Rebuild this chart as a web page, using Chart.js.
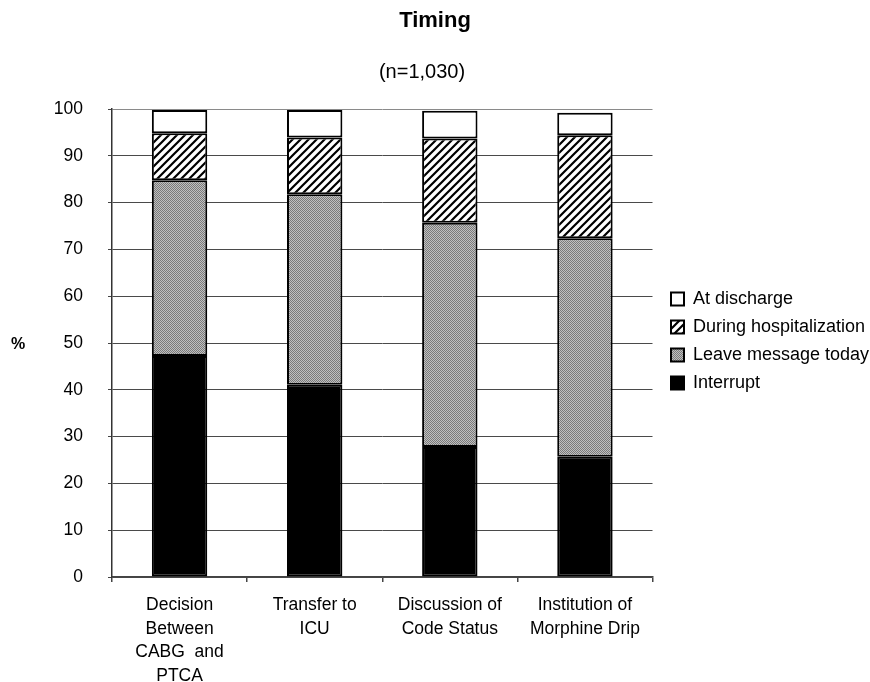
<!DOCTYPE html>
<html>
<head>
<meta charset="utf-8">
<title>Timing</title>
<script src="https://cdn.jsdelivr.net/npm/chart.js@4.4.1/dist/chart.umd.min.js"></script>
<style>
  body { margin: 0; background: #fff; }
  canvas { display: block; }
</style>
</head>
<body>
<canvas id="chart" width="870" height="682"></canvas>
<script>
const categories = [
  ['Decision', 'Between', 'CABG  and', 'PTCA'],
  ['Transfer to', 'ICU'],
  ['Discussion of', 'Code Status'],
  ['Institution of', 'Morphine Drip']
];
const interrupt = [47.2, 41.1, 27.8, 25.7];
const leaveMessage = [37.6, 40.7, 47.9, 46.7];
const duringStay = [10.0, 12.1, 18.0, 22.0];
const atDischarge = [5.0, 5.9, 5.9, 4.8];

const FONT = "'Liberation Sans', Arial, sans-serif";

// hatch fill for "During hospitalization"
function makeHatch() {
  const c = document.createElement('canvas');
  c.width = 8; c.height = 8;
  const g = c.getContext('2d');
  g.fillStyle = '#fff';
  g.fillRect(0, 0, 8, 8);
  g.strokeStyle = '#000';
  g.lineWidth = 2.2;
  g.beginPath();
  g.moveTo(-1, 9); g.lineTo(9, -1);
  g.moveTo(-3, 3); g.lineTo(3, -3);
  g.moveTo(5, 11); g.lineTo(11, 5);
  g.stroke();
  return g.createPattern(c, 'repeat');
}

// stipple grey for "Leave message today"
function makeStipple() {
  const c = document.createElement('canvas');
  c.width = 2; c.height = 2;
  const g = c.getContext('2d');
  g.fillStyle = '#c0c0c0';
  g.fillRect(0, 0, 2, 2);
  g.fillStyle = '#7a7a7a';
  g.fillRect(0, 0, 1, 1);
  g.fillRect(1, 1, 1, 1);
  return g.createPattern(c, 'repeat');
}

const textPlugin = {
  id: 'textPlugin',
  beforeDraw(chart) {
    // keep the legend beside the plot, centred on it
    const lg = chart.legend;
    lg.left = 661;
    lg.top = chart.chartArea.top;
    lg.bottom = chart.chartArea.bottom - 4;
  },
  afterDraw(chart) {
    const ctx = chart.ctx;
    ctx.save();
    ctx.fillStyle = '#000';
    ctx.textAlign = 'center';
    ctx.textBaseline = 'middle';
    ctx.font = 'bold 22px ' + FONT;
    ctx.fillText('Timing', 435, 21);
    ctx.font = '20px ' + FONT;
    ctx.fillText('(n=1,030)', 422, 72);
    ctx.font = 'bold 16px ' + FONT;
    ctx.fillText('%', 18, 345);
    ctx.restore();
  }
};

const common = { borderColor: '#000', borderWidth: 2, borderSkipped: false, barPercentage: 0.41, categoryPercentage: 1 };

new Chart(document.getElementById('chart'), {
  type: 'bar',
  data: {
    labels: categories,
    datasets: [
      { label: 'Interrupt', data: interrupt, backgroundColor: '#000', ...common },
      { label: 'Leave message today', data: leaveMessage, backgroundColor: makeStipple(), ...common },
      { label: 'During hospitalization', data: duringStay, backgroundColor: makeHatch(), ...common },
      { label: 'At discharge', data: atDischarge, backgroundColor: '#fff', ...common }
    ]
  },
  options: {
    responsive: false,
    animation: false,
    layout: { padding: { top: 109, left: 0, right: 0, bottom: 0 } },
    plugins: {
      legend: {
        position: 'right',
        reverse: true,
        labels: {
          color: '#000',
          font: { family: FONT, size: 18 },
          boxWidth: 13,
          boxHeight: 13,
          padding: 10
        }
      },
      title: { display: false },
      tooltip: { enabled: false }
    },
    scales: {
      x: {
        stacked: true,
        afterFit(scale) { scale.height = 105; },
        grid: {
          offset: true,
          color: ctx => ctx.index === 4 ? '#8a8a8a' : 'rgba(0,0,0,0)',
          tickColor: '#444',
          tickLength: 5,
          lineWidth: 1.5
        },
        border: { color: '#444', width: 1.5 },
        ticks: {
          color: '#000',
          font: { family: FONT, size: 17.5, lineHeight: 1.36 },
          padding: 11,
          maxRotation: 0,
          autoSkip: false
        }
      },
      y: {
        stacked: true,
        min: 0,
        max: 100,
        afterFit(scale) { scale.width = 112; },
        grid: {
          color: ctx => ctx.tick && ctx.tick.value === 100 ? '#8a8a8a' : '#4a4a4a',
          tickColor: '#444',
          tickLength: 4,
          lineWidth: 1
        },
        border: { color: '#333', width: 1.5 },
        ticks: {
          stepSize: 10,
          color: '#000',
          font: { family: FONT, size: 17.5 },
          padding: 25
        }
      }
    }
  },
  plugins: [textPlugin]
});
</script>
</body>
</html>
